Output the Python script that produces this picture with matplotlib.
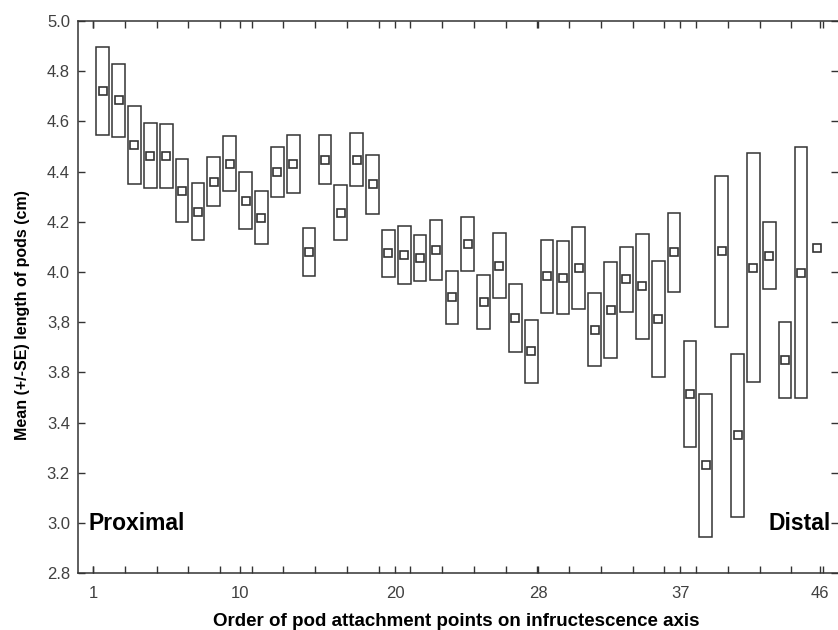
import numpy as np
import matplotlib
matplotlib.use("Agg")
import matplotlib.pyplot as plt
from matplotlib.ticker import FixedLocator

# attachment point order on the infructescence axis
positions = np.arange(1, 47)

# mean pod length (cm) at each attachment point
means = [
    4.720, 4.684, 4.506, 4.464, 4.462, 4.324, 4.241, 4.360, 4.432, 4.284,
    4.216, 4.399, 4.430, 4.080, 4.448, 4.236, 4.448, 4.350, 4.075, 4.068,
    4.057, 4.088, 3.899, 4.112, 3.882, 4.026, 3.817, 3.684, 3.983, 3.978,
    4.016, 3.771, 3.848, 3.971, 3.943, 3.812, 4.078, 3.514, 3.230, 4.083,
    3.349, 4.018, 4.065, 3.648, 3.998, 4.097,
]

# standard error (last point has a single pod, no SE)
se = [
    0.176, 0.145, 0.155, 0.128, 0.128, 0.125, 0.114, 0.098, 0.111, 0.114,
    0.106, 0.100, 0.114, 0.097, 0.099, 0.109, 0.106, 0.117, 0.094, 0.115,
    0.092, 0.120, 0.106, 0.108, 0.107, 0.128, 0.136, 0.126, 0.146, 0.145,
    0.162, 0.146, 0.192, 0.129, 0.209, 0.232, 0.157, 0.212, 0.285, 0.301,
    0.323, 0.455, 0.134, 0.151, 0.501, np.nan,
]

xtick_labels = ["1", "10", "20", "28", "37", "46"]
ytick_labels = ["2.8", "3.0", "3.2", "3.4", "3.8", "3,8",
                "4.0", "4.2", "4.4", "4.6", "4.8", "5.0"]

plt.rcParams["font.family"] = ["Liberation Sans", "DejaVu Sans"]

line_col = "#333333"

fig = plt.figure(figsize=(8.38, 6.30), dpi=100)
ax = fig.add_axes([0.0934, 0.090, 0.9066, 0.8767])

means = np.array(means)
se = np.array(se)
has_se = ~np.isnan(se)

ax.bar(positions[has_se], 2 * se[has_se], bottom=means[has_se] - se[has_se],
       width=0.8, facecolor="none", edgecolor=line_col, linewidth=1.1)
ax.plot(positions, means, linestyle="none", marker="s", markersize=6,
        markerfacecolor="white", markeredgecolor=line_col, markeredgewidth=1.2)

ax.set_xlim(-0.54, 47.33)
ax.set_ylim(2.8, 5.0)

ax.xaxis.set_major_locator(FixedLocator([0.4, 9.65, 19.42, 28.43, 37.38, 46.2]))
ax.set_xticklabels(xtick_labels)
ax.xaxis.set_minor_locator(FixedLocator(np.arange(0.39, 47, 2.0)))
ax.set_yticks(np.arange(2.8, 5.01, 0.2))
ax.set_yticklabels(ytick_labels)

ax.tick_params(which="both", direction="in", top=True, right=True,
               length=5, width=1, color=line_col, labelsize=12,
               labelcolor="#404040")
ax.tick_params(axis="x", pad=9)
ax.tick_params(axis="y", pad=6)

for side in ["left", "bottom", "top"]:
    ax.spines[side].set_color(line_col)
    ax.spines[side].set_linewidth(1.1)
ax.spines["right"].set_visible(False)

ax.set_xlabel("Order of pod attachment points on infructescence axis",
              fontsize=13.5, fontweight="bold")
ax.xaxis.set_label_coords(0.497, -0.071)
ax.set_ylabel("Mean (+/-SE) length of pods (cm)", fontsize=11.5,
              fontweight="bold",
              family=["Liberation Sans Narrow", "Liberation Sans", "DejaVu Sans"])
ax.yaxis.set_label_coords(-0.064, 0.467)

ax.text(0.12, 3.0, "Proximal", fontsize=16.5, fontweight="bold",
        ha="left", va="center")
ax.text(46.9, 3.0, "Distal", fontsize=16.5, fontweight="bold",
        ha="right", va="center")

fig.savefig("out.png", dpi=100)
